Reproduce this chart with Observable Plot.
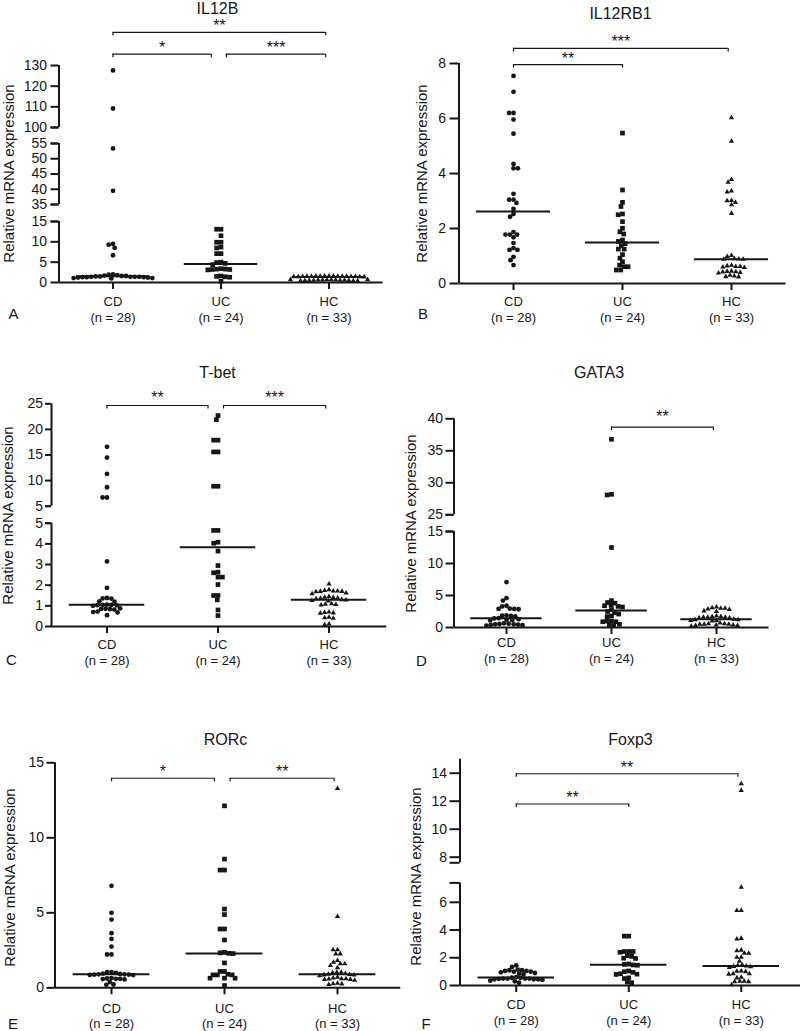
<!DOCTYPE html>
<html>
<head>
<meta charset="utf-8">
<script src="https://cdn.jsdelivr.net/npm/d3@7"></script>
<script src="https://cdn.jsdelivr.net/npm/@observablehq/plot@0.6"></script>
<style>
  html, body { margin: 0; padding: 0; background: #fff; }
  #root { position: relative; width: 800px; height: 1031px; overflow: hidden; }
  #root svg { position: absolute; }
</style>
</head>
<body>
<div id="root"></div>
<script>
// ---------- categories ----------
const GROUPS = ["CD", "UC", "HC"];
const GROUP_N = [28, 24, 33];
const SYMBOLS = ["circle", "square", "triangle"];
const Y_LABEL = "Relative mRNA expression";

// ---------- IL12B ----------
const il12bCD = [127.6, 109.2, 53.4, 39.5, 9.5, 9.3, 8.5, 6.7, 2.0, 1.9, 1.8, 1.7, 1.6, 1.6, 1.5, 1.5, 1.4, 1.4, 1.4, 1.4, 1.3, 1.3, 1.3, 1.2, 1.2, 1.1, 1.1, 1.0];
const il12bUC = [13.1, 13.1, 11.5, 9.9, 9.9, 8.7, 8.5, 7.1, 7.1, 5.0, 4.9, 4.7, 4.4, 3.4, 3.3, 3.3, 3.2, 3.2, 3.1, 1.6, 1.5, 1.4, 1.3, 0.3];
const il12bHC = [1.6, 1.6, 1.6, 1.55, 1.55, 1.55, 1.5, 1.5, 1.5, 1.5, 1.45, 1.45, 1.45, 1.4, 1.4, 1.4, 1.38, 0.7, 0.7, 0.65, 0.65, 0.6, 0.6, 0.6, 0.55, 0.55, 0.55, 0.5, 0.5, 0.5, 0.45, 0.45, 0.4];
const il12bSegments = [[0, 15], [35, 55], [100, 130]];
const il12bTicks = [[0, 5, 10, 15], [35, 40, 45, 50, 55], [100, 110, 120, 130]];
const il12bBrackets = [
  {from: "CD", to: "HC", level: 146, label: "**"},
  {from: "CD", to: "UC", level: 135.5, label: "*"},
  {from: "UC", to: "HC", level: 135.5, label: "***"}
];

// ---------- IL12RB1 ----------
const il12rb1CD = [7.55, 6.97, 6.2, 6.2, 5.96, 5.45, 4.35, 4.19, 4.19, 3.26, 3.05, 3.05, 2.93, 2.71, 2.53, 2.43, 1.87, 1.78, 1.78, 1.78, 1.68, 1.47, 1.29, 1.22, 1.22, 0.97, 0.85, 0.67];
const il12rb1UC = [5.47, 3.40, 2.95, 2.80, 2.53, 2.50, 2.25, 2.01, 1.88, 1.80, 1.58, 1.53, 1.45, 1.37, 1.25, 1.25, 1.05, 0.92, 0.79, 0.67, 0.61, 0.61, 0.49, 0.49];
const il12rb1HC = [6.03, 5.17, 3.78, 3.68, 3.36, 3.33, 3.02, 3.01, 2.95, 2.86, 2.55, 1.02, 0.98, 0.90, 0.89, 0.88, 0.88, 0.66, 0.64, 0.62, 0.62, 0.60, 0.58, 0.45, 0.44, 0.43, 0.42, 0.40, 0.38, 0.30, 0.27, 0.25, 0.24];
const il12rb1Segments = [[0, 8]];
const il12rb1Ticks = [[0, 2, 4, 6, 8]];
const il12rb1Brackets = [
  {from: "CD", to: "HC", level: 8.55, label: "***"},
  {from: "CD", to: "UC", level: 7.96, label: "**"}
];

// ---------- T-bet ----------
const tbetCD = [16.6, 14.5, 11.3, 8.7, 6.7, 6.7, 3.15, 1.87, 1.38, 1.36, 1.35, 1.22, 1.20, 1.06, 1.05, 1.04, 1.03, 1.02, 1.0, 0.88, 0.86, 0.85, 0.84, 0.82, 0.72, 0.70, 0.68, 0.55];
const tbetUC = [22.7, 21.9, 17.9, 17.9, 15.6, 15.6, 8.9, 8.9, 4.65, 4.65, 4.08, 4.03, 3.65, 2.95, 2.63, 2.60, 2.39, 2.39, 2.03, 1.5, 1.5, 1.29, 0.8, 0.53];
const tbetHC = [2.06, 1.78, 1.74, 1.72, 1.72, 1.70, 1.70, 1.68, 1.62, 1.58, 1.45, 1.42, 1.40, 1.38, 1.36, 1.34, 1.30, 1.28, 1.26, 1.24, 1.10, 1.08, 1.06, 1.04, 0.70, 0.68, 0.66, 0.64, 0.45, 0.42, 0.40, 0.12, 0.08];
const tbetSegments = [[0, 5], [5, 25]];
const tbetTicks = [[0, 1, 2, 3, 4, 5], [5, 10, 15, 20, 25]];
const tbetBrackets = [
  {from: "CD", to: "UC", level: 24.67, label: "**"},
  {from: "UC", to: "HC", level: 24.67, label: "***"}
];

// ---------- GATA3 ----------
const gata3CD = [7.1, 4.6, 4.2, 3.4, 3.3, 2.95, 2.9, 2.9, 2.85, 1.9, 1.85, 1.8, 1.75, 1.45, 1.42, 1.3, 1.2, 1.15, 1.1, 0.65, 0.6, 0.55, 0.5, 0.5, 0.45, 0.4, 0.35, 0.3];
const gata3UC = [36.8, 28.2, 28.1, 12.5, 4.2, 3.9, 3.8, 3.5, 3.4, 3.3, 3.2, 2.8, 2.5, 2.3, 2.1, 1.8, 1.7, 1.0, 1.0, 0.9, 0.9, 0.5, 0.4, 0.3];
const gata3HC = [3.2, 3.1, 3.0, 3.0, 2.9, 2.8, 2.6, 2.5, 1.8, 1.7, 1.7, 1.6, 1.6, 1.6, 1.5, 1.5, 1.3, 1.2, 1.2, 1.1, 1.1, 1.0, 0.7, 0.6, 0.6, 0.5, 0.5, 0.5, 0.4, 0.4, 0.3, 0.3, 0.2];
const gata3Segments = [[0, 15], [25, 40]];
const gata3Ticks = [[0, 5, 10, 15], [25, 30, 35, 40]];
const gata3Brackets = [
  {from: "UC", to: "HC", level: 38.7, label: "**"}
];

// ---------- RORc ----------
const rorcCD = [6.8, 5.0, 4.55, 3.64, 3.26, 2.75, 2.22, 2.22, 1.05, 1.04, 1.0, 0.95, 0.92, 0.9, 0.9, 0.88, 0.88, 0.86, 0.85, 0.65, 0.62, 0.6, 0.6, 0.58, 0.56, 0.38, 0.22, 0.2];
const rorcUC = [12.13, 8.58, 7.85, 7.85, 5.25, 4.88, 3.92, 3.92, 3.19, 2.37, 2.33, 2.3, 2.28, 1.66, 1.09, 1.09, 0.9, 0.86, 0.86, 0.86, 0.64, 0.64, 0.64, 0.15];
const rorcHC = [13.28, 4.75, 2.53, 2.53, 2.26, 2.26, 1.82, 1.7, 1.6, 1.6, 1.49, 1.33, 1.04, 1.04, 1.0, 0.95, 0.9, 0.88, 0.86, 0.85, 0.8, 0.71, 0.65, 0.6, 0.6, 0.58, 0.56, 0.55, 0.5, 0.3, 0.27, 0.25, 0.22];
const rorcSegments = [[0, 15]];
const rorcTicks = [[0, 5, 10, 15]];
const rorcBrackets = [
  {from: "CD", to: "UC", level: 13.97, label: "*"},
  {from: "UC", to: "HC", level: 13.97, label: "**"}
];

// ---------- Foxp3 ----------
const foxp3CD = [1.45, 1.35, 1.15, 1.1, 1.1, 1.05, 1.05, 1.0, 1.0, 0.95, 0.9, 0.85, 0.8, 0.6, 0.56, 0.55, 0.5, 0.5, 0.5, 0.5, 0.48, 0.45, 0.45, 0.45, 0.4, 0.35, 0.3, 0.2];
const foxp3UC = [3.56, 3.56, 2.45, 2.45, 2.45, 2.4, 2.15, 2.1, 1.97, 1.95, 1.55, 1.52, 1.48, 1.46, 1.05, 1.0, 0.95, 0.85, 0.82, 0.8, 0.55, 0.5, 0.25, 0.2];
const foxp3HC = [13.24, 12.77, 7.09, 5.41, 5.41, 3.4, 3.35, 2.55, 2.5, 2.33, 2.33, 2.04, 2.04, 1.75, 1.5, 1.45, 1.4, 1.38, 1.35, 1.3, 1.05, 1.02, 1.0, 0.85, 0.84, 0.82, 0.6, 0.55, 0.3, 0.3, 0.28, 0.28, 0.05];
const foxp3Segments = [[0, 7.4], [7.6, 15]];
const foxp3Ticks = [[0, 2, 4, 6], [8, 10, 12, 14]];
const foxp3Brackets = [
  {from: "CD", to: "HC", level: 13.96, label: "**"},
  {from: "CD", to: "UC", level: 11.8, label: "**"}
];

// ---------- layout (pixel geometry of each panel) ----------
const panels = [
  {letter: "A", title: "IL12B", series: [il12bCD, il12bUC, il12bHC], segments: il12bSegments, ticks: il12bTicks, brackets: il12bBrackets,
   box: {left: 0, top: 0, height: 330},
   lay: {ml: 58.5, pxu: 108, xEnd: 2.5, yRange: [282, 221, 204, 143, 127, 65], tickSize: 8, tickPadding: 4, catY: [305, 321], labelDy: -1,
         title: [217, 13], ylab: [8.5, 173], letter: [13, 318]}},
  {letter: "B", title: "IL12RB1", series: [il12rb1CD, il12rb1UC, il12rb1HC], segments: il12rb1Segments, ticks: il12rb1Ticks, brackets: il12rb1Brackets,
   box: {left: 400, top: 0, height: 330},
   lay: {ml: 58.5, pxu: 109, xEnd: 2.5, yRange: [283, 63], tickSize: 9, tickPadding: 4, catY: [305, 321], labelDy: -1,
         title: [220, 18.5], ylab: [21.5, 173], letter: [22.5, 318]}},
  {letter: "C", title: "T-bet", series: [tbetCD, tbetUC, tbetHC], segments: tbetSegments, ticks: tbetTicks, brackets: tbetBrackets,
   box: {left: 0, top: 330, height: 350},
   lay: {ml: 51, pxu: 111, xEnd: 2.52, yRange: [296, 192.7, 175.7, 73.3], tickSize: 6, tickPadding: 2.5, catY: [318, 334], labelDy: -2,
         title: [217, 47], ylab: [7.5, 185], letter: [11, 334]}},
  {letter: "D", title: "GATA3", series: [gata3CD, gata3UC, gata3HC], segments: gata3Segments, ticks: gata3Ticks, brackets: gata3Brackets,
   box: {left: 400, top: 330, height: 350},
   lay: {ml: 53.5, pxu: 105, xEnd: 2.5, yRange: [297, 201, 184.3, 88.3], tickSize: 8, tickPadding: 3, catY: [316.7, 332.5], labelDy: -5,
         title: [198.5, 47], ylab: [11, 193], letter: [21, 335]}},
  {letter: "E", title: "RORc", series: [rorcCD, rorcUC, rorcHC], segments: rorcSegments, ticks: rorcTicks, brackets: rorcBrackets,
   box: {left: 0, top: 680, height: 351},
   lay: {ml: 54.5, pxu: 113, xEnd: 2.56, yRange: [307.3, 82.3], tickSize: 8, tickPadding: 3, catY: [332.5, 347.5], labelDy: -1,
         title: [225, 64], ylab: [10, 197], letter: [12.5, 348]}},
  {letter: "F", title: "Foxp3", series: [foxp3CD, foxp3UC, foxp3HC], segments: foxp3Segments, ticks: foxp3Ticks, brackets: foxp3Brackets,
   box: {left: 400, top: 680, height: 351},
   lay: {ml: 59.5, pxu: 112.5, xEnd: 2.54, yRange: [305, 202.4, 182.3, 78.7], tickSize: 10, tickPadding: 3, catY: [328, 344.3], labelDy: -1,
         title: [230, 64], ylab: [16, 196], letter: [25.5, 348]}}
];

const INK = "#161616";
const FONT = "'Liberation Sans', Arial, Helvetica, sans-serif";
const SPACING = 4.4;               // collision distance (px) for the column scatter
const DOT_R = [2.4, 2.65, 1.95];    // circle, square, triangle

// simple column-scatter (beeswarm) layout in pixel space, result in px offsets
function swarm(py, spacing) {
  const order = py.map((y, i) => i).sort((a, b) => py[a] - py[b]);
  const placed = [];
  const off = new Array(py.length).fill(0);
  for (const i of order) {
    const forb = [];
    for (const q of placed) {
      const dy = py[i] - q.y;
      if (Math.abs(dy) < spacing) {
        const w = Math.sqrt(spacing * spacing - dy * dy);
        forb.push([q.x - w, q.x + w]);
      }
    }
    const cands = [0];
    for (const [a, b] of forb) cands.push(a, b);
    cands.sort((a, b) => Math.abs(a) - Math.abs(b) || a - b);
    let x = 0;
    for (const c of cands) {
      if (forb.every(([a, b]) => c <= a + 1e-9 || c >= b - 1e-9)) { x = c; break; }
    }
    off[i] = x;
    placed.push({x, y: py[i]});
  }
  return off;
}

function buildPanel(p) {
  const W = 400, H = p.box.height, L = p.lay;
  const domain = [];
  p.segments.forEach(([lo, hi]) => {
    let a = lo;
    if (domain.length && a <= domain[domain.length - 1]) a = domain[domain.length - 1] + 1e-6;
    domain.push(a, hi);
  });
  const segs = p.segments.map((s, k) => ({lo: domain[2 * k], hi: domain[2 * k + 1]}));
  const tickVals = p.ticks.flatMap((ts, k) => ts.map(v => Math.max(v, segs[k].lo)));
  const caps = segs.flatMap((s, k) => [k > 0 ? s.lo : null, k < segs.length - 1 ? s.hi : null]).filter(v => v != null);
  const yPix = d3.scaleLinear().domain(domain).range(L.yRange);

  const marginLeft = L.ml;
  const marginRight = W - L.ml - 3 * L.pxu;
  const marginTop = L.yRange[L.yRange.length - 1];
  const marginBottom = H - L.yRange[0];
  const y0 = L.yRange[0];

  const points = [];
  p.series.forEach((vals, gi) => {
    const offs = swarm(vals.map(v => yPix(v)), SPACING);
    vals.forEach((v, j) => points.push({gi, value: v, x: gi + offs[j] / L.pxu}));
  });
  const medians = p.series.map((vals, gi) => ({gi, median: d3.median(vals)}));

  const idx = g => GROUPS.indexOf(g);
  const meet = p.brackets.some(b => b.to === "UC") && p.brackets.some(b => b.from === "UC");
  const br = p.brackets.map(b => {
    const x1 = idx(b.from) + (meet && b.from === "UC" ? 0.05 : 0);
    const x2 = idx(b.to) - (meet && b.to === "UC" ? 0.09 : (b.to === "HC" ? 0.03 : 0));
    return {...b, x1, x2, xm: (x1 + x2) / 2};
  });
  const brEnds = br.flatMap(b => [{x: b.x1, level: b.level}, {x: b.x2, level: b.level}]);

  const at = ([tx, ty]) => ({frameAnchor: "top-left", dx: tx - marginLeft, dy: ty - marginTop, textAnchor: "middle"});
  const cats = [0, 1, 2];

  const svg = Plot.plot({
    width: W, height: H,
    marginLeft, marginRight, marginTop, marginBottom,
    style: {fontFamily: FONT, color: INK, background: "transparent", overflow: "visible"},
    x: {domain: [-0.5, 2.5], axis: null},
    y: {type: "linear", domain, range: L.yRange},
    marks: [
      // broken y axis line
      Plot.ruleX(segs, {x: -0.5, y1: "lo", y2: "hi", stroke: INK, strokeWidth: 2}),
      // caps at the axis breaks
      Plot.ruleY(caps, {y: d => d, x1: -0.5, x2: -0.5, insetLeft: -L.tickSize, stroke: INK, strokeWidth: 2}),
      // x axis line
      Plot.ruleY([0], {x1: -0.5, x2: L.xEnd, stroke: INK, strokeWidth: 2}),
      Plot.axisY({ticks: tickVals, tickFormat: v => String(Math.round(v)), tickSize: L.tickSize, tickPadding: L.tickPadding,
                  strokeWidth: 2, fontSize: 14, label: null, color: INK}),
      // category ticks and labels
      Plot.ruleX(cats, {x: d => d, y1: 0, y2: 0, insetBottom: -7, stroke: INK, strokeWidth: 2}),
      Plot.text(cats, {x: d => d, text: d => GROUPS[d], frameAnchor: "bottom", dy: L.catY[0] - y0,
                       lineAnchor: "bottom", textAnchor: "middle", fontSize: 13, fill: INK}),
      Plot.text(cats, {x: d => d, text: d => `(n = ${GROUP_N[d]})`, frameAnchor: "bottom", dy: L.catY[1] - y0,
                       lineAnchor: "bottom", textAnchor: "middle", fontSize: 13, fill: INK}),
      // medians
      Plot.ruleY(medians, {y: "median", x1: d => d.gi - 0.34, x2: d => d.gi + 0.34, stroke: INK, strokeWidth: 2}),
      // points
      ...[0, 1, 2].map(gi => Plot.dot(points.filter(d => d.gi === gi), {
        x: "x", y: "value", symbol: SYMBOLS[gi], r: DOT_R[gi], fill: INK, stroke: "none"
      })),
      // significance brackets
      Plot.ruleY(br, {y: "level", x1: "x1", x2: "x2", stroke: INK, strokeWidth: 1.2}),
      Plot.ruleX(brEnds, {x: "x", y1: "level", y2: "level", insetBottom: -3.5, stroke: INK, strokeWidth: 1.2}),
      Plot.text(br, {x: "xm", y: "level", text: "label", lineAnchor: "bottom", dy: L.labelDy, fontSize: 16, fill: INK}),
      // title, y label, panel letter
      Plot.text([p.title], {...at(L.title), text: d => d, fontSize: 16, lineAnchor: "bottom", fill: INK}),
      Plot.text([Y_LABEL], {...at(L.ylab), text: d => d, rotate: -90, fontSize: 15, lineAnchor: "middle", fill: INK}),
      Plot.text([p.letter], {...at(L.letter), text: d => d, fontSize: 15, lineAnchor: "bottom", fill: INK})
    ]
  });
  svg.style.left = p.box.left + "px";
  svg.style.top = p.box.top + "px";
  return svg;
}

const root = document.getElementById("root");
panels.forEach(p => root.appendChild(buildPanel(p)));
</script>
</body>
</html>
